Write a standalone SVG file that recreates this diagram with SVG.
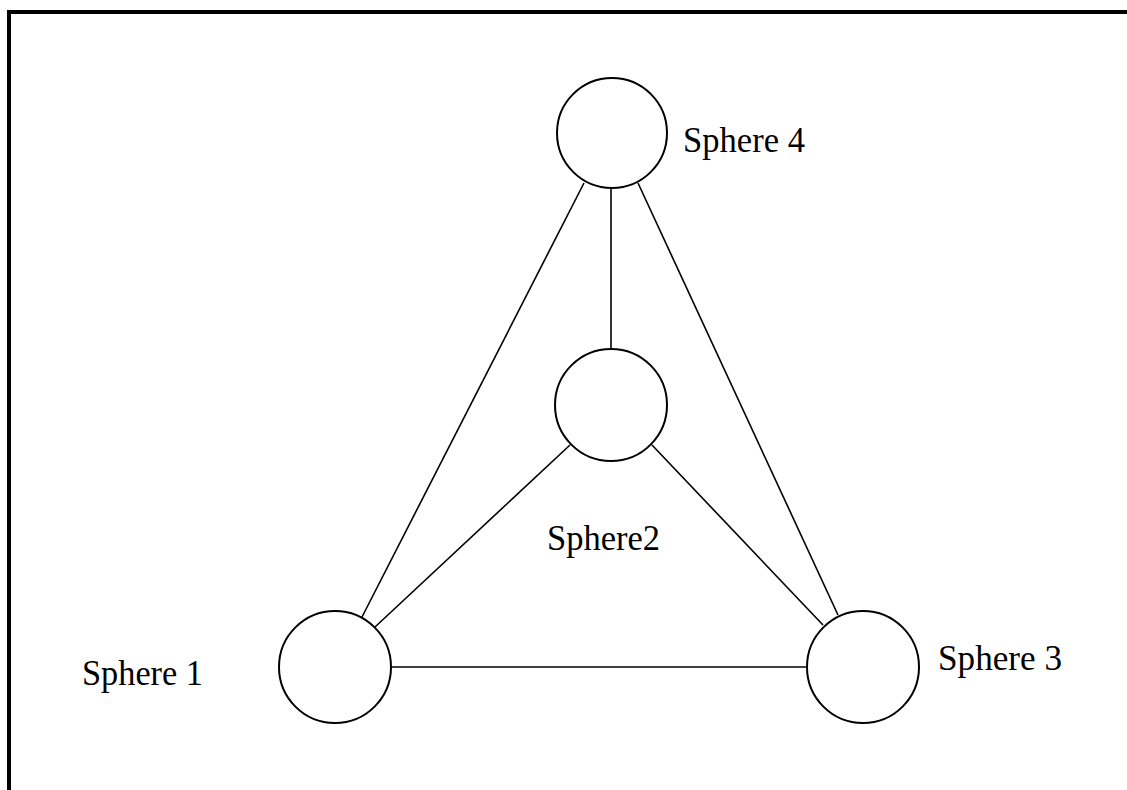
<svg xmlns="http://www.w3.org/2000/svg" width="1127" height="790" viewBox="0 0 1127 790">
<style>
.node circle{fill:#fff;stroke:#000;stroke-width:2}
.edges line{stroke:#000;stroke-width:1.6}
.label{font-family:"Liberation Serif","Times New Roman",serif;font-size:36px;fill:#000}
</style>
<rect width="1127" height="790" fill="#fff"/>
<path d="M9 790 V12 H1127" fill="none" stroke="#000" stroke-width="4"/>
<g class="edges" id="connectors">
<line x1="611" y1="189" x2="611" y2="349"/>
<line x1="584" y1="183" x2="362" y2="617"/>
<line x1="638" y1="183" x2="838" y2="615"/>
<line x1="570" y1="445" x2="375" y2="627"/>
<line x1="652" y1="445" x2="823" y2="625"/>
<line x1="392" y1="667" x2="807" y2="667"/>
</g>
<g class="node" id="sphere4"><circle cx="612" cy="133" r="55"/><text class="label" x="683" y="152" textLength="122" lengthAdjust="spacingAndGlyphs">Sphere 4</text></g>
<g class="node" id="sphere2"><circle cx="611" cy="405" r="56"/><text class="label" x="547" y="550" textLength="113" lengthAdjust="spacingAndGlyphs">Sphere2</text></g>
<g class="node" id="sphere1"><circle cx="335" cy="667" r="56"/><text class="label" x="82" y="685" textLength="121" lengthAdjust="spacingAndGlyphs">Sphere 1</text></g>
<g class="node" id="sphere3"><circle cx="863" cy="667" r="56"/><text class="label" x="938" y="670" textLength="124" lengthAdjust="spacingAndGlyphs">Sphere 3</text></g>
</svg>
